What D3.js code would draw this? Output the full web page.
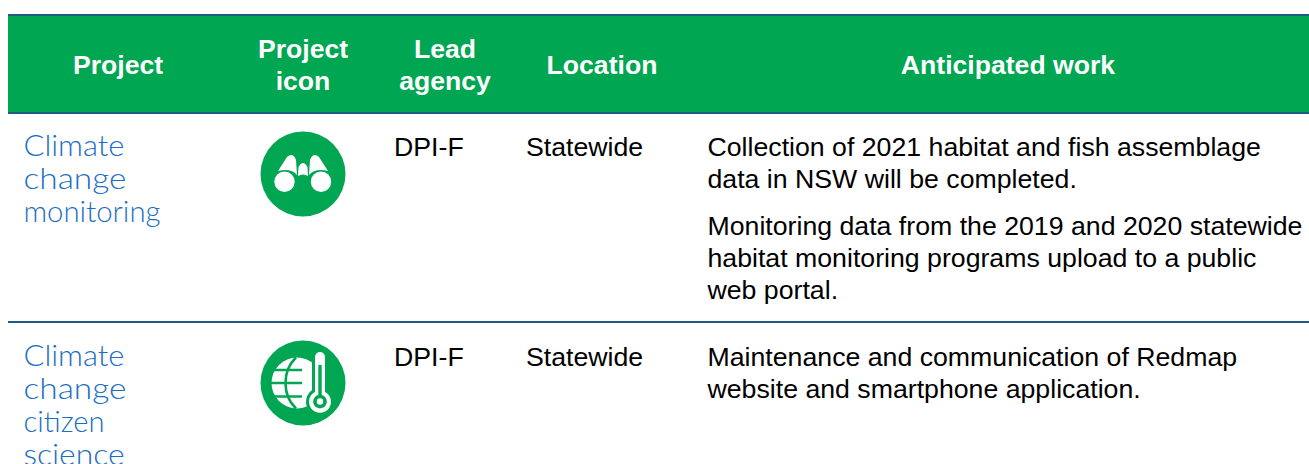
<!DOCTYPE html>
<html><head><meta charset="utf-8">
<style>html,body{margin:0;padding:0;background:#fff;overflow:hidden}svg{display:block}</style>
<script src="https://cdn.jsdelivr.net/npm/d3@7"></script></head>
<body><svg id="c" width="1309" height="464"></svg>
<script>
const columns = [
  {lines:["Project"], x:118},
  {lines:["Project","icon"], x:303},
  {lines:["Lead","agency"], x:445},
  {lines:["Location"], x:602},
  {lines:["Anticipated work"], x:1008}
];
const projects = [["Climate","change","monitoring"],["Climate","change","citizen","science"]];
const agencies = ["DPI-F","DPI-F"];
const locations = ["Statewide","Statewide"];
const work = [
  [["Collection of 2021 habitat and fish assemblage","data in NSW will be completed."],
   ["Monitoring data from the 2019 and 2020 statewide","habitat monitoring programs upload to a public","web portal."]],
  [["Maintenance and communication of Redmap","website and smartphone application."]]
];
const rowBaselines = [155.5,365.5];
const rules = [15,113,322];
const projectWidths = {Climate:101, change:103, monitoring:137, citizen:81, science:101};
const svg = d3.select("#c");
const SANS = "'Liberation Sans',Arial,sans-serif", GEO = "Lato,'Open Sans',sans-serif";
const GREEN="#00a651", NAVY="#1f5c85", BLUE="#1b6ec2";
svg.append("rect").attr("x",8).attr("y",15).attr("width",1301).attr("height",98).attr("fill",GREEN);
svg.selectAll("line.r").data(rules).join("line").attr("class","r")
  .attr("x1",8).attr("x2",1309).attr("y1",d=>d).attr("y2",d=>d)
  .attr("stroke",NAVY).attr("stroke-width",2);
columns.forEach(c=>{
  const y0 = c.lines.length===1 ? 74 : 58;
  c.lines.forEach((t,i)=>svg.append("text").text(t).attr("x",c.x).attr("y",y0+i*32)
    .attr("text-anchor","middle").attr("font-family",SANS).attr("font-weight",700)
    .attr("font-size",26.6).attr("fill","#fff"));
});
projects.forEach((p,r)=>p.forEach((t,i)=>svg.append("text").text(t)
  .attr("x",23.5).attr("y",rowBaselines[r]+0.8+i*33).attr("font-family",GEO).attr("font-weight",300)
  .attr("font-size",28.5).attr("fill",BLUE)
  .attr("textLength",projectWidths[t]).attr("lengthAdjust","spacingAndGlyphs")));
function body(t,x,y){svg.append("text").text(t).attr("x",x).attr("y",y).attr("font-family",SANS)
  .attr("font-size",26.7).attr("fill","#000");}
agencies.forEach((t,r)=>body(t,394,rowBaselines[r]));
locations.forEach((t,r)=>body(t,526,rowBaselines[r]));
work.forEach((paras,r)=>{
  let y=rowBaselines[r];
  paras.forEach(par=>{par.forEach(l=>{body(l,707.5,y);y+=32;});y+=15.5;});
});
// binoculars icon
const b=svg.append("g").attr("transform","translate(303,174)");
b.append("circle").attr("r",42.5).attr("fill",GREEN);
const bf=b.append("g").attr("fill","#fff");
bf.append("circle").attr("cx",-18.5).attr("cy",7.7).attr("r",10.2);
bf.append("circle").attr("cx",18).attr("cy",7.7).attr("r",10.2);
bf.append("path").attr("d","M-25,-3 L-16,-17 Q-10,-22 -7,-14 L-6,1 Q-12,-6 -25,-3Z");
bf.append("path").attr("d","M25,-3 L16,-17 Q10,-22 7,-14 L6,1 Q12,-6 25,-3Z");
bf.append("path").attr("d","M-4.5,-7 Q0,-15 4.5,-7 L5,2 Q0,-1 -5,2Z");
// globe + thermometer icon
const g=svg.append("g").attr("transform","translate(303,383)");
g.append("circle").attr("r",42.5).attr("fill",GREEN);
g.append("circle").attr("cx",-6).attr("r",25.5).attr("fill","#fff");
g.append("path").attr("fill","none").attr("stroke",GREEN).attr("stroke-width",2.6)
  .attr("d","M-7,-25.5 C-21,-12 -21,12 -7,25.5");
[-13,0,13.5].forEach(d=>g.append("line").attr("x1",-34).attr("x2",-1).attr("y1",d).attr("y2",d)
  .attr("stroke",GREEN).attr("stroke-width",2.6));
const thermo="M12,-26 a5,5 0 0 1 10,0 L22,9 a11,11 0 1 1 -10,0Z";
g.append("path").attr("d",thermo).attr("fill","#fff").attr("stroke",GREEN).attr("stroke-width",6).attr("paint-order","stroke");
g.append("path").attr("fill",GREEN).attr("d","M15.3,-18 L18.7,-18 L18.7,12 a6.8,6.8 0 1 1 -3.4,0Z");
g.append("circle").attr("cx",17).attr("cy",18.5).attr("r",3.2).attr("fill","#fff");
</script></body></html>
